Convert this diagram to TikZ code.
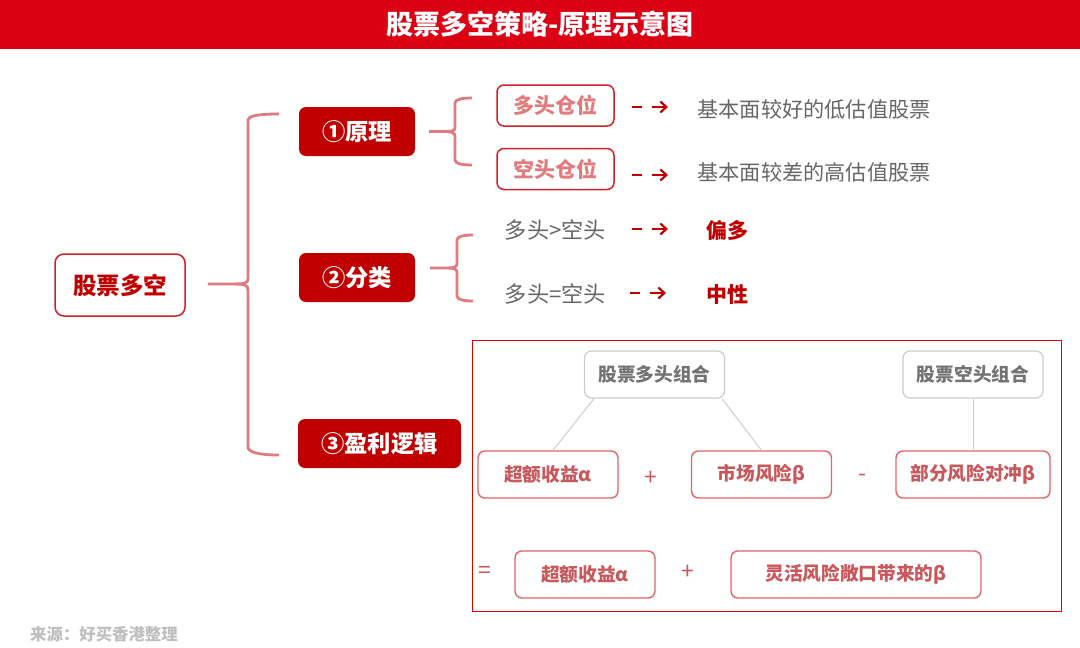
\documentclass[tikz,border=0pt]{standalone}
\usepackage{xcolor}
\usepackage{fontspec}
\setmainfont{Noto Sans CJK SC}
\usetikzlibrary{positioning, arrows.meta}

\definecolor{barred}{HTML}{DC0014}
\definecolor{darkred}{HTML}{C00000}
\definecolor{edgered}{HTML}{D0202A}
\definecolor{bracered}{HTML}{E07B7F}
\definecolor{softred}{HTML}{C8585C}
\definecolor{softedge}{HTML}{E0646A}
\definecolor{graytext}{HTML}{666666}

\tikzset{
  fillbox/.style={fill=darkred, text=white, rounded corners=7pt, font=\fontsize{23.3}{26}\selectfont\bfseries, minimum height=49pt, inner sep=0pt},
  rootbox/.style={draw=edgered, line width=1.5pt, text=darkred, rounded corners=9pt, font=\fontsize{23.5}{26}\selectfont\bfseries, minimum width=130pt, minimum height=62pt, inner sep=0pt},
  posbox/.style={draw=edgered, line width=1.5pt, text=bracered, rounded corners=7pt, font=\fontsize{21}{24}\selectfont\bfseries, minimum width=117pt, minimum height=41pt, inner sep=0pt},
  graybox/.style={draw=black!20, line width=1.2pt, text=black!55, rounded corners=7pt, font=\fontsize{18.7}{22}\selectfont\bfseries, minimum width=140pt, minimum height=47pt, inner sep=0pt},
  softbox/.style={draw=softedge, line width=1.4pt, text=softred, rounded corners=7pt, font=\fontsize{18.7}{22}\selectfont\bfseries, minimum width=140pt, minimum height=47pt, inner sep=0pt},
  plain/.style={text=graytext, font=\fontsize{21.2}{24}\selectfont, inner sep=0pt},
  compare/.style={text=graytext, font=\fontsize{22.2}{24}\selectfont, inner sep=0pt},
  result/.style={text=darkred, font=\fontsize{21}{24}\selectfont\bfseries, inner sep=0pt},
  sign/.style={text=softred, font=\fontsize{23}{24}\selectfont, inner sep=0pt},
  bracket/.style={draw=bracered, line width=2.8pt},
  point/.style={draw=darkred, line width=2.2pt, -{Straight Barb[length=6pt,width=11pt]}, dash pattern=on 10pt off 10pt on 20pt},
  thin link/.style={draw=black!20, line width=1pt}
}

\begin{document}
\begin{tikzpicture}[x=1pt, y=-1pt]
\useasboundingbox (0,0) rectangle (1080,648);

% Title
\fill[barred] (0,0) rectangle (1080,49);
\node[text=white, font=\fontsize{27}{30}\selectfont\bfseries, inner sep=0pt] (title) at (540,24.5) {股票多空策略-原理示意图};

% Left side
\node[rootbox] (root) at (120,285) {股票多空};
\node[fillbox, minimum width=116pt] (b1) at (357,131.5) {①原理};
\node[fillbox, minimum width=116pt] (b2) at (357,277.5) {②分类};
\node[fillbox, minimum width=163pt] (b3) at (379.5,443.5) {③盈利逻辑};

% Positions
\node[posbox] (long) at (555.5,105.5) {多头仓位};
\node[posbox] (short) at (555.5,169) {空头仓位};
\node[plain] (longtext) at (814,109) {基本面较好的低估值股票};
\node[plain] (shorttext) at (814,172.5) {基本面较差的高估值股票};
\node[compare] (more) at (555.5,230) {多头>空头};
\node[compare] (equal) at (555.5,294) {多头=空头};
\node[result] (bias) at (727,231) {偏多};
\node[result] (neutral) at (727,295) {中性};

% Red frame
\draw[draw=red!85!black, line width=1pt] (472,340) rectangle (1061,611);
\node[graybox] (plong) at (654.5,374.5) {股票多头组合};
\node[graybox] (pshort) at (973,374.5) {股票空头组合};
\node[softbox] (alpha) at (548,474.5) {超额收益α};
\node[softbox] (market) at (761.5,474.5) {市场风险β};
\node[softbox, minimum width=154pt] (hedge) at (973,474.5) {部分风险对冲β};
\node[softbox] (alphatwo) at (585,574.5) {超额收益α};
\node[softbox, minimum width=250pt] (flex) at (856,574.5) {灵活风险敞口带来的β};
\node[sign] (plusa) at (650.5,478) {+};
\node[sign] (minus) at (862,478) {-};
\node[sign] (eq) at (484.5,572) {=};
\node[sign] (plusb) at (688,572) {+};

\draw[thin link] ([xshift=-60.5pt]plong.south) -- ([xshift=5pt]alpha.north);
\draw[thin link] ([xshift=67.5pt]plong.south) -- (market.north);
\draw[thin link] (pshort.south) -- (hedge.north);

% Brackets
\coordinate (t0) at (279,114);
\coordinate (d0) at (279,455);
\coordinate (t1) at (472,98);
\coordinate (d1) at (472,165);
\coordinate (t2) at (473,235);
\coordinate (d2) at (473,301);
\draw[bracket] ([xshift=22pt,yshift=1pt]root.east) -- (236,284) .. controls (244,284) and (248,283) .. (248,279)
  -- (248,120) .. controls (248,116) and (258,114) .. (t0);
\draw[bracket] (236,284) .. controls (244,284) and (248,285) .. (248,290)
  -- (248,447) .. controls (248,452) and (258,455) .. (d0);
\draw[bracket] ([xshift=14pt]b1.east) -- (446,131.5) .. controls (451,131.5) and (455,131) .. (455,128)
  -- (455,103) .. controls (455,99) and (463,98) .. (t1);
\draw[bracket] (446,131.5) .. controls (451,131.5) and (455,133) .. (455,136)
  -- (455,160) .. controls (455,164) and (463,165) .. (d1);
\draw[bracket] ([xshift=15pt,yshift=9.5pt]b2.east) -- (448,268) .. controls (453,268) and (457,267) .. (457,264)
  -- (457,240) .. controls (457,236) and (465,235) .. (t2);
\draw[bracket] (448,268) .. controls (453,268) and (457,269) .. (457,272)
  -- (457,296) .. controls (457,300) and (465,301) .. (d2);

% Arrows
\coordinate (a1) at (632,107);
\coordinate (e1) at (668,107);
\coordinate (a2) at (632,175);
\coordinate (e2) at (668,175);
\coordinate (a3) at (632,229);
\coordinate (e3) at (668,229);
\coordinate (a4) at (630,293);
\coordinate (e4) at (666,293);
\foreach \i in {1,2,3,4} \draw[point] (a\i) -- (e\i);

% Source
\node[text=black!25, font=\fontsize{16.4}{18}\selectfont\bfseries, inner sep=0pt, anchor=west] (source) at (30,634.5) {来源：好买香港整理};
\end{tikzpicture}
\end{document}
